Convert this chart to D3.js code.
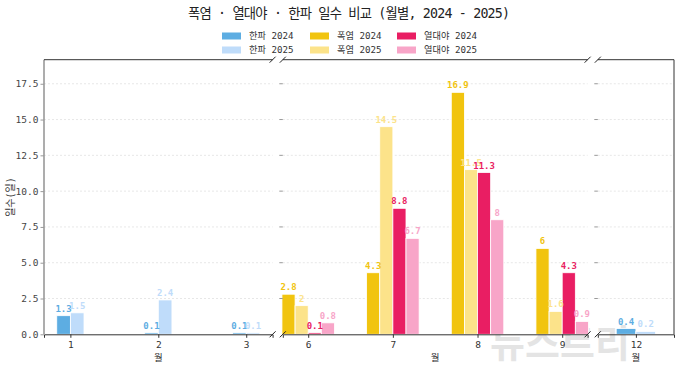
<!DOCTYPE html>
<html><head><meta charset="utf-8">
<script src="https://cdn.jsdelivr.net/npm/d3@7"></script>
<style>
body{margin:0;background:#fff;}
text{font-family:"DejaVu Sans Mono","Noto Sans CJK KR",monospace;}
</style></head>
<body><svg id="c" width="680" height="368"></svg>
<script>
const title = "폭염 · 열대야 · 한파 일수 비교 (월별, 2024 - 2025)";
const yLabel = "일수(일)";
const xLabel = "월";
const coldMonthsA = [1, 2, 3];
const coldMonthsB = [12];
const hotMonths = [6, 7, 8, 9];
const cold2024 = {1: 1.3, 2: 0.1, 3: 0.1, 12: 0.4};
const cold2025 = {1: 1.5, 2: 2.4, 3: 0.1, 12: 0.2};
const heat2024 = [2.8, 4.3, 16.9, 6];
const heat2025 = [2, 14.5, 11.5, 1.6];
const trop2024 = [0.1, 8.8, 11.3, 4.3];
const trop2025 = [0.8, 6.7, 8, 0.9];
const yTicks = [0, 2.5, 5, 7.5, 10, 12.5, 15, 17.5];
const seriesNames = ["한파 2024", "한파 2025", "폭염 2024", "폭염 2025", "열대야 2024", "열대야 2025"];
const colors = ["#5DADE2", "#BFDCFA", "#F1C40F", "#FCE38A", "#E91E63", "#F8A5C8"];

const svg = d3.select("#c");
const yTop = 59.7, yBot = 334.3;
const y = d3.scaleLinear().domain([0, 19.18]).range([yBot, yTop]);
const panels = [
  {x0: 44, x1: 272.6, months: coldMonthsA},
  {x0: 282.8, x1: 587.6, months: hotMonths},
  {x0: 597.8, x1: 674, months: coldMonthsB}
];
const bw = 0.155;

svg.append("text").attr("x", 188).attr("y", 18)
  .attr("font-size", 13.3).attr("fill", "#222")
  .attr("textLength", 322).attr("lengthAdjust", "spacing").text(title);

// legend
const legCols = [222, 310, 397];
seriesNames.forEach((n, i) => {
  const col = Math.floor(i / 2), row = i % 2;
  const lx = legCols[col], ly = 36 + row * 14;
  svg.append("rect").attr("x", lx).attr("y", ly - 3.5).attr("width", 19).attr("height", 7).attr("fill", colors[i]);
  svg.append("text").attr("x", lx + 27).attr("y", ly + 3.3).attr("font-size", 9.2).attr("fill", "#333").text(n);
});

// watermark
svg.append("text").attr("x", 560).attr("y", 357).attr("text-anchor", "middle")
  .attr("font-size", 38).attr("font-weight", "bold").attr("fill", "#000").attr("opacity", 0.1)
  .style("font-family", "'Noto Sans CJK KR'").text("뉴스트리");

panels.forEach((p, pi) => {
  const x = d3.scaleLinear().domain([d3.min(p.months) - 0.3, d3.max(p.months) + 0.3]).range([p.x0, p.x1]);
  const g = svg.append("g");
  // grid
  g.selectAll(".grid").data(yTicks.slice(1)).join("line")
    .attr("x1", p.x0).attr("x2", p.x1).attr("y1", d => y(d)).attr("y2", d => y(d))
    .attr("stroke", "#ddd").attr("stroke-width", 0.7).attr("stroke-dasharray", "2,2");
  // bars
  const bars = [];
  if (pi === 1) {
    p.months.forEach((m, i) => {
      [heat2024[i], heat2025[i], trop2024[i], trop2025[i]].forEach((v, k) => {
        bars.push({m, v, off: (k - 1.5) * bw, c: colors[2 + k]});
      });
    });
  } else {
    p.months.forEach(m => {
      bars.push({m, v: cold2024[m], off: -0.5 * bw, c: colors[0]});
      bars.push({m, v: cold2025[m], off: 0.5 * bw, c: colors[1]});
    });
  }
  g.selectAll(".bar").data(bars).join("rect")
    .attr("x", d => x(d.m + d.off - bw / 2)).attr("width", d => x(bw) - x(0))
    .attr("y", d => y(d.v)).attr("height", d => y(0) - y(d.v))
    .attr("fill", d => d.c).attr("stroke", "#fff").attr("stroke-width", 0.8);
  g.selectAll(".lbl").data(bars).join("text")
    .attr("x", d => x(d.m + d.off)).attr("y", d => y(d.v) - 4)
    .attr("text-anchor", "middle").attr("font-size", 9).attr("font-weight", "bold")
    .attr("fill", d => d.c).text(d => String(d.v));
  // x axis
  const xa = d3.axisBottom(x).tickValues(p.months).tickSize(3.5).tickPadding(3).tickFormat(d3.format("d"));
  const ax = g.append("g").attr("transform", `translate(0,${yBot})`).call(xa);
  ax.select(".domain").attr("stroke", "#333");
  ax.selectAll(".tick line").attr("stroke", "#333");
  ax.selectAll("text").attr("font-size", 9.5).attr("fill", "#333");
  // y ticks
  if (pi === 0) {
    const ya = d3.axisLeft(y).tickValues(yTicks).tickSize(3.5).tickPadding(2).tickFormat(d3.format(".1f"));
    const ay = g.append("g").attr("transform", `translate(${p.x0},0)`).call(ya);
    ay.select(".domain").remove();
    ay.selectAll(".tick line").attr("stroke", "#999");
    ay.selectAll("text").attr("font-size", 9.5).attr("fill", "#444");
    g.append("line").attr("x1", p.x0).attr("x2", p.x0).attr("y1", yTop).attr("y2", yBot)
      .attr("stroke", "#999").attr("stroke-width", 1.6);
  } else {
    g.selectAll(".yt").data(yTicks.slice(1)).join("line")
      .attr("x1", p.x0 - 3.5).attr("x2", p.x0).attr("y1", d => y(d)).attr("y2", d => y(d))
      .attr("stroke", "#999");
  }
  // top spine
  g.append("line").attr("x1", p.x0).attr("x2", p.x1).attr("y1", yTop).attr("y2", yTop).attr("stroke", "#333");
  if (pi === 2) {
    g.append("line").attr("x1", p.x1).attr("x2", p.x1).attr("y1", yTop).attr("y2", yBot).attr("stroke", "#333");
  }
  // x label
  g.append("text").attr("x", (p.x0 + p.x1) / 2).attr("y", 361).attr("text-anchor", "middle")
    .attr("font-size", 9.5).attr("fill", "#333").text(xLabel);
  // break marks
  const marks = [];
  if (pi < 2) marks.push(p.x1);
  if (pi > 0) marks.push(p.x0);
  marks.forEach(mx => [yTop, yBot].forEach(my => {
    g.append("line").attr("x1", mx - 3).attr("y1", my + 3).attr("x2", mx + 3).attr("y2", my - 3)
      .attr("stroke", "#222").attr("stroke-width", 1);
  }));
});

svg.append("text").attr("transform", `translate(14,${(yTop + yBot) / 2}) rotate(-90)`)
  .attr("text-anchor", "middle").attr("font-size", 10).attr("fill", "#333").text(yLabel);
</script></body></html>
